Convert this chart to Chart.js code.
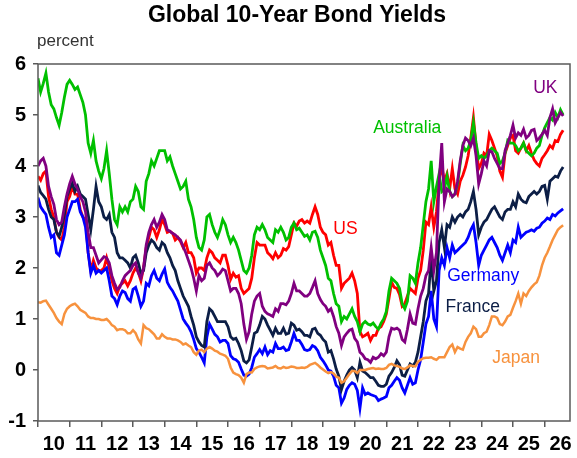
<!DOCTYPE html>
<html>
<head>
<meta charset="utf-8">
<title>Global 10-Year Bond Yields</title>
<script src="https://cdn.jsdelivr.net/npm/chart.js@4.4.1/dist/chart.umd.min.js"></script>
<style>
  body { margin: 0; background: #fff; }
  #wrap { width: 577px; height: 458px; }
</style>
</head>
<body>
<div id="wrap"><canvas id="myChart" width="577" height="458"></canvas></div>
<script>
// monthly readings, Jan 2010 .. Aug 2026
const startYear = 2010;

const australia = [
  5.72, 5.45, 5.62, 5.82, 5.45, 5.2, 5.12, 4.95, 4.8, 5.05, 5.35, 5.6,   // 2010
  5.68, 5.6, 5.5, 5.55, 5.4, 5.25, 5.0, 4.45, 4.25, 4.5, 4.1, 3.9,       // 2011
  3.75, 3.95, 4.3, 3.85, 3.35, 2.95, 2.85, 3.2, 3.1, 3.2, 3.1, 3.3,      // 2012
  3.35, 3.6, 3.5, 3.2, 3.15, 3.7, 3.85, 4.1, 4.0, 4.15, 4.3, 4.3,        // 2013
  4.3, 4.1, 4.18, 4.0, 3.85, 3.7, 3.55, 3.6, 3.7, 3.35, 3.2, 2.95,       // 2014
  2.6, 2.4, 2.35, 2.55, 3.0, 3.05, 2.85, 2.7, 2.6, 2.75, 2.95, 2.85,     // 2015
  2.65, 2.5, 2.6, 2.5, 2.35, 2.15, 1.95, 1.9, 2.0, 2.25, 2.65, 2.8,      // 2016
  2.75, 2.85, 2.75, 2.6, 2.55, 2.5, 2.75, 2.7, 2.8, 2.7, 2.55, 2.6,      // 2017
  2.8, 2.88, 2.75, 2.78, 2.7, 2.62, 2.65, 2.55, 2.7, 2.72, 2.6, 2.35,    // 2018
  2.2, 2.05, 1.8, 1.75, 1.5, 1.3, 1.25, 0.95, 1.05, 1.0, 1.1, 1.2,       // 2019
  1.05, 0.95, 0.75, 0.9, 0.95, 0.9, 0.88, 0.92, 0.85, 0.8, 0.92, 1.0,    // 2020
  1.15, 1.55, 1.8, 1.75, 1.7, 1.6, 1.3, 1.2, 1.35, 1.85, 1.8, 1.7,       // 2021
  2.1, 2.4, 2.85, 3.3, 3.55, 4.1, 3.3, 3.6, 3.85, 3.5, 3.55, 3.8,        // 2022
  3.5, 3.4, 3.45, 3.65, 4.05, 4.4, 4.3, 4.35, 4.5, 4.85, 4.45, 4.15,     // 2023
  4.2, 4.15, 4.2, 4.3, 4.35, 4.3, 4.25, 4.05, 4.1, 4.25, 4.5, 4.45,      // 2024
  4.45, 4.4, 4.3, 4.35, 4.45, 4.3, 4.25, 4.2, 4.25, 4.35, 4.4, 4.6,      // 2025
  4.75, 4.85, 4.95, 4.9, 5.05, 4.95, 5.1, 5.0                            // 2026
];

const us = [
  3.8, 3.72, 3.85, 3.9, 3.4, 3.15, 3.0, 2.7, 2.6, 2.55, 2.8, 3.3,
  3.4, 3.6, 3.45, 3.45, 3.15, 3.0, 2.95, 2.3, 1.95, 2.15, 2.0, 1.95,
  1.95, 2.0, 2.2, 2.0, 1.75, 1.6, 1.5, 1.65, 1.7, 1.75, 1.65, 1.75,
  1.9, 2.0, 1.92, 1.75, 2.0, 2.4, 2.6, 2.8, 2.75, 2.6, 2.75, 2.95,
  2.85, 2.7, 2.72, 2.68, 2.55, 2.6, 2.52, 2.4, 2.5, 2.3, 2.3, 2.2,
  1.9, 2.0, 2.0, 1.95, 2.2, 2.35, 2.3, 2.2, 2.15, 2.1, 2.25, 2.25,
  2.05, 1.78, 1.9, 1.82, 1.85, 1.6, 1.5, 1.55, 1.6, 1.8, 2.2, 2.5,
  2.45, 2.45, 2.45, 2.3, 2.25, 2.18, 2.3, 2.2, 2.25, 2.38, 2.35, 2.42,
  2.65, 2.88, 2.82, 2.92, 2.95, 2.88, 2.92, 2.88, 3.05, 3.2, 3.05, 2.8,
  2.7, 2.65, 2.45, 2.5, 2.25, 2.05, 2.05, 1.6, 1.7, 1.75, 1.8, 1.9,
  1.75, 1.5, 0.75, 0.65, 0.68, 0.72, 0.58, 0.68, 0.68, 0.82, 0.85, 0.95,
  1.1, 1.4, 1.72, 1.62, 1.6, 1.48, 1.25, 1.3, 1.45, 1.6, 1.55, 1.5,
  1.8, 1.95, 2.35, 2.9, 2.85, 3.2, 2.8, 3.1, 3.7, 4.0, 3.7, 3.85,
  3.55, 3.95, 3.55, 3.45, 3.7, 3.82, 3.98, 4.2, 4.55, 4.95, 4.4, 3.95,
  4.05, 4.25, 4.2, 4.62, 4.5, 4.35, 4.2, 3.9, 3.78, 4.25, 4.4, 4.55,
  4.6, 4.3, 4.25, 4.35, 4.45, 4.3, 4.4, 4.25, 4.12, 4.05, 4.0, 4.15,
  4.22, 4.3, 4.4, 4.35, 4.5, 4.48, 4.62, 4.7
];

const uk = [
  4.0, 4.1, 4.15, 4.0, 3.6, 3.4, 3.25, 2.95, 2.85, 2.9, 3.2, 3.45,
  3.65, 3.8, 3.65, 3.55, 3.4, 3.3, 3.1, 2.7, 2.4, 2.4, 2.25, 2.1,
  2.16, 2.22, 2.2, 2.1, 1.85, 1.7, 1.58, 1.62, 1.75, 1.85, 1.9, 1.95,
  2.05, 2.1, 1.9, 1.8, 2.0, 2.45, 2.7, 2.85, 2.95, 2.8, 2.9, 3.05,
  2.95, 2.75, 2.72, 2.68, 2.65, 2.6, 2.55, 2.42, 2.3, 2.15, 2.0, 1.8,
  1.55, 1.85, 1.75, 1.8, 2.05, 2.1, 2.0, 1.95, 1.85, 1.9, 1.98, 1.95,
  1.75, 1.55, 1.6, 1.6, 1.5, 1.3, 0.9, 0.6, 0.75, 1.1, 1.35, 1.45,
  1.5, 1.25, 1.15, 1.1, 1.08, 1.05, 1.2, 1.15, 1.3, 1.3, 1.28, 1.35,
  1.5, 1.7, 1.55, 1.55, 1.5, 1.45, 1.45, 1.5, 1.62, 1.75, 1.5, 1.38,
  1.3, 1.25, 1.15, 1.2, 1.05, 0.85, 0.72, 0.48, 0.65, 0.72, 0.78, 0.8,
  0.62, 0.55, 0.35, 0.3, 0.22, 0.2, 0.15, 0.25, 0.22, 0.25, 0.32, 0.28,
  0.35, 0.65, 0.82, 0.8, 0.82, 0.78, 0.6, 0.55, 0.8, 1.1, 0.92, 0.9,
  1.2, 1.45, 1.6, 1.85, 1.95, 2.4, 1.95, 2.3, 3.7, 4.45, 3.3, 3.55,
  3.5, 3.4, 3.45, 3.7, 4.1, 4.4, 4.55, 4.5, 4.4, 4.55, 4.2, 3.65,
  3.85, 4.1, 4.0, 4.3, 4.28, 4.15, 4.05, 3.95, 3.95, 4.3, 4.45, 4.6,
  4.8, 4.55, 4.65, 4.6, 4.72, 4.55, 4.6, 4.7, 4.72, 4.5, 4.55, 4.62,
  4.7, 4.6, 4.95, 5.12, 4.85, 4.95, 5.05, 4.98
];

const france = [
  3.62, 3.48, 3.42, 3.35, 3.15, 3.0, 2.95, 2.7, 2.62, 2.8, 3.05, 3.4,
  3.55, 3.66, 3.5, 3.6, 3.45, 3.4, 3.35, 3.05, 2.75, 3.15, 3.6, 3.3,
  3.2, 3.0, 2.95, 3.05, 2.7, 2.6, 2.3, 2.2, 2.2, 2.15, 2.1, 2.0,
  2.2, 2.25, 2.1, 1.9, 1.95, 2.3, 2.45, 2.55, 2.5, 2.4, 2.35, 2.5,
  2.45, 2.3, 2.2, 2.05, 1.95, 1.75, 1.6, 1.45, 1.35, 1.25, 1.05, 0.88,
  0.65, 0.55, 0.48, 0.45, 0.95, 1.2, 1.15, 1.05, 0.95, 0.95, 0.95, 0.95,
  0.85, 0.65, 0.6, 0.62, 0.52, 0.38, 0.18, 0.14, 0.2, 0.45, 0.72, 0.75,
  0.88, 1.05, 1.0, 0.88, 0.78, 0.68, 0.82, 0.72, 0.72, 0.82, 0.7, 0.72,
  0.92, 0.88, 0.78, 0.8, 0.75, 0.68, 0.68, 0.65, 0.8, 0.82, 0.72, 0.68,
  0.6, 0.55, 0.35, 0.38, 0.22, 0.02, -0.12, -0.38, -0.22, -0.1, 0.0, 0.05,
  0.0, -0.15, 0.15, -0.02, -0.05, -0.1, -0.15, -0.15, -0.22, -0.3, -0.32, -0.32,
  -0.28, -0.12, -0.05, 0.05, 0.18, 0.1, -0.1, -0.12, 0.0, 0.12, 0.08, 0.15,
  0.35, 0.65, 0.95, 1.35, 1.5, 2.2, 1.55, 1.75, 2.5, 2.75, 2.4, 2.85,
  2.8, 3.0, 2.9, 3.0, 3.05, 3.0, 3.1, 3.15, 3.3, 3.5, 3.15, 2.65,
  2.8, 2.9, 2.95, 3.05, 3.15, 3.2, 3.1, 3.0, 2.95, 3.1, 3.15, 3.15,
  3.3, 3.2, 3.45, 3.35, 3.3, 3.28, 3.4, 3.45, 3.5, 3.45, 3.5, 3.6,
  3.62, 3.35, 3.7, 3.75, 3.8, 3.78, 3.9, 3.98
];

const germany = [
  3.38, 3.2, 3.12, 3.05, 2.8, 2.6, 2.65, 2.3, 2.25, 2.45, 2.65, 3.0,
  3.15, 3.3, 3.3, 3.35, 3.1, 3.0, 2.8, 2.3, 1.9, 2.05, 1.9, 1.95,
  1.9, 1.95, 2.0, 1.75, 1.45, 1.4, 1.28, 1.45, 1.55, 1.52, 1.4, 1.35,
  1.58, 1.62, 1.45, 1.25, 1.35, 1.7, 1.65, 1.85, 1.95, 1.8, 1.75, 1.88,
  1.98, 1.72, 1.62, 1.55, 1.45, 1.35, 1.18, 1.0, 0.92, 0.85, 0.75, 0.6,
  0.42, 0.35, 0.25, 0.14, 0.65, 0.9, 0.8, 0.7, 0.65, 0.55, 0.58, 0.58,
  0.52, 0.28, 0.22, 0.2, 0.15, 0.02, -0.1, -0.12, -0.08, 0.05, 0.25, 0.32,
  0.4, 0.32, 0.45, 0.3, 0.38, 0.35, 0.52, 0.42, 0.42, 0.45, 0.38, 0.4,
  0.55, 0.72, 0.58, 0.58, 0.5, 0.4, 0.38, 0.4, 0.48, 0.45, 0.38, 0.25,
  0.18, 0.1, 0.0, -0.02, -0.12, -0.3, -0.35, -0.65, -0.55, -0.38, -0.3, -0.25,
  -0.28, -0.4, -0.75, -0.35, -0.48, -0.45, -0.48, -0.5, -0.52, -0.6, -0.57, -0.55,
  -0.52, -0.35, -0.3, -0.22, -0.15, -0.2, -0.35, -0.45, -0.3, -0.15, -0.28, -0.25,
  0.0, 0.2, 0.55, 0.9, 1.05, 1.55, 1.0, 0.85, 1.95, 2.2, 2.05, 2.4,
  2.2, 2.45, 2.3, 2.35, 2.4, 2.45, 2.5, 2.6, 2.75, 2.85, 2.5, 2.05,
  2.25, 2.35, 2.45, 2.55, 2.6, 2.5, 2.4, 2.25, 2.15, 2.3, 2.45, 2.3,
  2.55, 2.5, 2.8, 2.6, 2.65, 2.7, 2.72, 2.75, 2.72, 2.78, 2.8, 2.88,
  2.92, 2.98, 2.95, 3.05, 3.02, 3.08, 3.12, 3.16
];

const japan = [
  1.33, 1.32, 1.35, 1.36, 1.28, 1.2, 1.12, 1.02, 0.95, 0.9, 1.1, 1.2,
  1.25, 1.28, 1.3, 1.25, 1.18, 1.15, 1.12, 1.05, 1.02, 1.02, 1.0, 1.0,
  0.98, 0.98, 1.0, 0.95, 0.88, 0.85, 0.78, 0.8, 0.8, 0.78, 0.72, 0.72,
  0.78, 0.72, 0.6, 0.52, 0.88, 0.82, 0.8, 0.75, 0.7, 0.62, 0.62, 0.7,
  0.65, 0.62, 0.62, 0.6, 0.6, 0.58, 0.55, 0.5, 0.52, 0.48, 0.45, 0.35,
  0.3, 0.38, 0.4, 0.35, 0.42, 0.45, 0.42, 0.38, 0.36, 0.32, 0.3, 0.28,
  0.22, 0.05, -0.05, -0.08, -0.1, -0.15, -0.25, -0.08, -0.05, -0.05, 0.02, 0.05,
  0.07, 0.08, 0.07, 0.03, 0.04, 0.05, 0.08, 0.04, 0.03, 0.06, 0.04, 0.05,
  0.07, 0.06, 0.04, 0.04, 0.05, 0.04, 0.06, 0.1, 0.12, 0.14, 0.1, 0.05,
  0.01, -0.03, -0.06, -0.04, -0.07, -0.13, -0.15, -0.25, -0.22, -0.15, -0.08, -0.02,
  -0.02, -0.06, 0.0, 0.0, 0.0, 0.02, 0.03, 0.04, 0.02, 0.03, 0.02, 0.02,
  0.04, 0.1, 0.12, 0.09, 0.08, 0.06, 0.03, 0.02, 0.05, 0.09, 0.08, 0.07,
  0.16, 0.2, 0.23, 0.24, 0.24, 0.25, 0.22, 0.2, 0.25, 0.25, 0.25, 0.35,
  0.45, 0.5, 0.35, 0.45, 0.42, 0.4, 0.55, 0.65, 0.72, 0.85, 0.8, 0.65,
  0.65, 0.72, 0.75, 0.88, 1.05, 1.05, 1.02, 0.9, 0.88, 0.95, 1.05, 1.08,
  1.22, 1.35, 1.5, 1.3, 1.5, 1.45, 1.55, 1.62, 1.68, 1.72, 1.85, 2.05,
  2.2, 2.3, 2.42, 2.55, 2.65, 2.75, 2.8, 2.84
];

const yTicks = [-1, 0, 1, 2, 3, 4, 5, 6];
const yearTicks = [2010, 2011, 2012, 2013, 2014, 2015, 2016, 2017, 2018,
                   2019, 2020, 2021, 2022, 2023, 2024, 2025, 2026];

// series labels placed on the chart (year, percent)
const seriesLabels = [
  { text: 'UK',        x: 2026.02, y: 5.53, color: '#800080' },
  { text: 'Australia', x: 2021.66, y: 4.75, color: '#00c000' },
  { text: 'US',        x: 2019.71, y: 2.76, color: '#ff0000' },
  { text: 'Germany',   x: 2024.06, y: 1.84, color: '#0000ff' },
  { text: 'France',    x: 2023.73, y: 1.24, color: '#0c1e46' },
  { text: 'Japan',     x: 2025.10, y: 0.24, color: '#f7923e' }
];

const FONT = "'Liberation Sans', Arial, sans-serif";

function toPoints(values) {
  return values.map((v, i) => ({ x: startYear + i / 12, y: v }));
}

const frame = {
  id: 'frame',
  afterDraw(chart) {
    const { ctx, chartArea: a, scales: { x, y } } = chart;
    ctx.save();
    ctx.strokeStyle = '#5a5a5a';
    ctx.lineWidth = 1.5;
    ctx.strokeRect(a.left, a.top, a.right - a.left, a.bottom - a.top);

    ctx.fillStyle = '#000';
    ctx.font = 'bold 23px ' + FONT;
    ctx.textAlign = 'center';
    ctx.textBaseline = 'middle';
    ctx.fillText('Global 10-Year Bond Yields', 297, 16);

    ctx.fillStyle = '#333';
    ctx.font = '17px ' + FONT;
    ctx.textAlign = 'left';
    ctx.fillText('percent', 37, 41);

    ctx.font = '17.5px ' + FONT;
    ctx.textAlign = 'center';
    seriesLabels.forEach(l => {
      ctx.fillStyle = l.color;
      ctx.fillText(l.text, x.getPixelForValue(l.x), y.getPixelForValue(l.y));
    });
    ctx.restore();
  }
};

const line = (label, values, color, width) => ({
  label,
  data: toPoints(values),
  borderColor: color,
  borderWidth: width,
  pointRadius: 0,
  tension: 0,
  fill: false
});

new Chart(document.getElementById('myChart'), {
  type: 'line',
  data: {
    // first dataset is drawn on top
    datasets: [
      line('Japan', japan, '#f7923e', 2.5),
      line('UK', uk, '#800080', 2.8),
      line('France', france, '#0c1e46', 2.8),
      line('Germany', germany, '#0000ff', 2.8),
      line('Australia', australia, '#00c000', 2.8),
      line('US', us, '#ff0000', 2.8)
    ]
  },
  options: {
    responsive: false,
    animation: false,
    layout: { padding: { top: 64, right: 7, left: 0, bottom: 0 } },
    plugins: { legend: { display: false }, tooltip: { enabled: false } },
    scales: {
      x: {
        type: 'linear',
        min: 2010,
        max: 2026.8,
        afterFit(scale) { scale.height = 37; },
        afterBuildTicks(scale) {
          const t = [];
          yearTicks.forEach(yr => { t.push({ value: yr }); t.push({ value: yr + 0.5 }); });
          scale.ticks = t;
        },
        border: { display: false },
        grid: {
          drawOnChartArea: false,
          tickLength: 6,
          lineWidth: 1.5,
          color: c => (c.tick && Number.isInteger(c.tick.value)) ? '#5a5a5a' : 'rgba(0,0,0,0)'
        },
        ticks: {
          autoSkip: false,
          maxRotation: 0,
          padding: 5,
          color: '#000',
          font: { family: FONT, size: 20, weight: 'bold' },
          callback: v => Number.isInteger(v) ? '' : String(Math.floor(v)).slice(2)
        }
      },
      y: {
        min: -1,
        max: 6,
        afterFit(scale) { scale.width = 38; },
        afterBuildTicks(scale) { scale.ticks = yTicks.map(v => ({ value: v })); },
        border: { display: false },
        grid: { drawOnChartArea: false, tickLength: 5, lineWidth: 1.5, color: '#5a5a5a' },
        ticks: {
          padding: 7,
          color: '#000',
          font: { family: FONT, size: 20, weight: 'bold' }
        }
      }
    }
  },
  plugins: [frame]
});
</script>
</body>
</html>
